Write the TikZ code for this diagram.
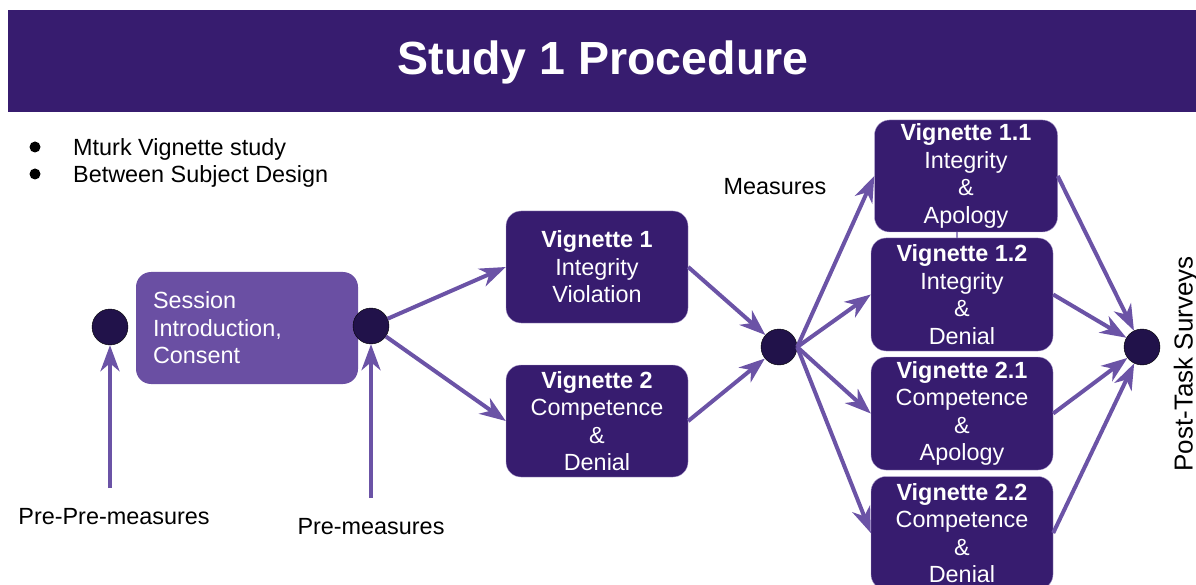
\documentclass[tikz,border=0pt]{standalone}
\usepackage{fontspec}
\setmainfont{Liberation Sans}
\usetikzlibrary{arrows.meta, positioning}

\definecolor{deeppurple}{HTML}{371C6F}
\definecolor{midpurple}{HTML}{6A4FA3}
\definecolor{arrowpurple}{HTML}{6B53A6}
\definecolor{dotpurple}{HTML}{21124A}

\tikzset{
    >={Stealth[length=26pt, width=19pt, inset=8pt]},
    every node/.style={font=\fontsize{23.4}{27.5}\selectfont, inner sep=0pt},
    vignette/.style={rectangle, rounded corners=15pt, fill=deeppurple, draw=midpurple!55!white, thin,
        text=white, align=center, minimum width=182pt, minimum height=112pt},
    session/.style={vignette, fill=midpurple, draw=none, align=left, text width=188pt, inner xsep=17pt},
    junction/.style={circle, fill=dotpurple, draw=black, thin, minimum size=36pt},
    flow/.style={->, draw=arrowpurple, line width=4pt},
    bulletdot/.style={circle, fill=black, minimum size=11pt},
    caption/.style={text=black},
}

\begin{document}
\begin{tikzpicture}[x=1pt, y=-1pt]
    \useasboundingbox (0,0) rectangle (1196,585);
    \clip (0,0) rectangle (1196,585);

    \node [fill=deeppurple, minimum width=1188pt, minimum height=102pt] (banner) at (602,61) {};
    \node [text=white, font=\fontsize{46.5}{50}\selectfont\bfseries] (title) at (603,62) {Study 1 Procedure};

    \node [bulletdot] (b1) at (35,147) {};
    \node [bulletdot] (b2) at (35,174) {};
    \node [caption, anchor=west] (item1) at (73,149) {Mturk Vignette study};
    \node [caption, anchor=west] (item2) at (73,176) {Between Subject Design};

    \node [junction] (start) at (110,327) {};
    \node [session] (session) at (247,328) {Session\\Introduction,\\Consent};
    \node [junction] (split) at (371,326) {};
    \node [vignette] (v1) at (597,267) {\textbf{Vignette 1}\\Integrity\\Violation};
    \node [vignette] (v2) at (597,421) {\textbf{Vignette 2}\\Competence\\\&\\Denial};
    \node [junction] (merge) at (779,347) {};
    \node [vignette, minimum width=183pt] (v11) at (966,176) {\textbf{Vignette 1.1}\\Integrity\\\&\\Apology};
    \node [vignette, minimum height=113pt] (v12) at (962,294.5) {\textbf{Vignette 1.2}\\Integrity\\\&\\Denial};
    \node [vignette, minimum height=113pt] (v21) at (962,413.5) {\textbf{Vignette 2.1}\\Competence\\\&\\Apology};
    \node [vignette, minimum height=113pt] (v22) at (962,533) {\textbf{Vignette 2.2}\\Competence\\\&\\Denial};
    \node [junction] (finish) at (1142,347) {};

    \node [caption] (prepre) at (114,517) {Pre-Pre-measures};
    \node [caption] (pre) at (371,527) {Pre-measures};
    \node [caption] (measures) at (775,187) {Measures};
    \node [caption, rotate=90, font=\fontsize{26}{30}\selectfont] (post) at (1186,364) {Post-Task Surveys};

    \coordinate (prepre-tail) at (110,488);
    \coordinate (pre-tail) at (371,498);

    \draw [flow] (prepre-tail) -- (start);
    \draw [flow] (pre-tail) -- (split);
    \draw [flow] (split) -- (v1.west);
    \draw [flow] (split) -- (v2.west);
    \draw [flow] (v1.east) -- (merge);
    \draw [flow] (v2.east) -- (merge);
    \draw [flow] (merge.east) -- (v11.west);
    \draw [flow] (merge.east) -- (v12.west);
    \draw [flow] (merge.east) -- (v21.west);
    \draw [flow] (merge.east) -- (v22.west);
    \draw [flow] (v11.east) -- (finish);
    \draw [flow] (v12.east) -- (finish);
    \draw [flow] (v21.east) -- (finish);
    \draw [flow] (v22.east) -- (finish);
    \draw [arrowpurple!70!white, line width=2pt] ([xshift=-9pt]v11.south) -- ([xshift=-5pt]v12.north);
\end{tikzpicture}
\end{document}
